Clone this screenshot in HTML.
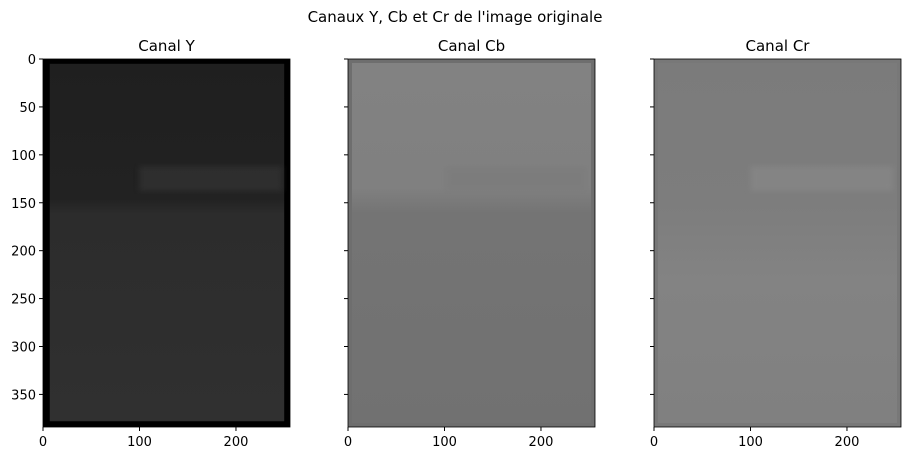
<!DOCTYPE html>
<html><head><meta charset="utf-8"><style>
body{margin:0;background:#fff;font-family:"Liberation Sans","DejaVu Sans",sans-serif;}
svg text{font-family:"DejaVu Sans","Liberation Sans",sans-serif;font-size:13px;fill:#000}
</style></head><body>
<svg id="fig" width="910" height="457" xmlns="http://www.w3.org/2000/svg">
<defs>
<linearGradient id="gy" x1="0" y1="0" x2="0" y2="1">
<stop offset="0" stop-color="#1f1f1f"/><stop offset="0.38" stop-color="#222"/><stop offset="0.42" stop-color="#2c2c2c"/><stop offset="1" stop-color="#303030"/></linearGradient>
<linearGradient id="gcb" x1="0" y1="0" x2="0" y2="1">
<stop offset="0" stop-color="#828282"/><stop offset="0.35" stop-color="#808080"/><stop offset="0.42" stop-color="#747474"/><stop offset="1" stop-color="#717171"/></linearGradient>
<linearGradient id="gcr" x1="0" y1="0" x2="0" y2="1">
<stop offset="0" stop-color="#7b7b7b"/><stop offset="0.4" stop-color="#7d7d7d"/><stop offset="0.6" stop-color="#838383"/><stop offset="1" stop-color="#808080"/></linearGradient>
<filter id="blur"><feGaussianBlur stdDeviation="3"/></filter>
</defs>
<text x="455" y="22" text-anchor="middle" style="font-size:15px">Canaux Y, Cb et Cr de l'image originale</text>
<g id="panels"></g>
</svg>
<script>
const panelTitles=["Canal Y","Canal Cb","Canal Cr"];
const xTicks=[0,100,200];
const yTicks=[0,50,100,150,200,250,300,350];
const imgW=256, imgH=384;
const lefts=[43,348,654], topY=59, pw=247, ph=368;
const fills=["url(#gy)","url(#gcb)","url(#gcr)"];
const ns="http://www.w3.org/2000/svg";
const root=document.getElementById('panels');
function mk(t,a,p){const e=document.createElementNS(ns,t);for(const k in a)e.setAttribute(k,a[k]);p.appendChild(e);return e;}
panelTitles.forEach((title,i)=>{
  const L=lefts[i];
  const sx=v=>L+v/imgW*pw, sy=v=>topY+v/imgH*ph;
  const g=mk('g',{},root);
  
  
  let img;
  if(i===0){mk('rect',{x:L,y:topY,width:pw,height:ph,fill:'#000'},g);
    img=mk('rect',{x:sx(7),y:sy(5),width:sx(250)-sx(7),height:sy(378)-sy(5),fill:fills[i]},g);
  } else {
    img=mk('rect',{x:L,y:topY,width:pw,height:ph,fill:fills[i]},g);
    mk('rect',{x:L+2,y:topY+2,width:pw-4,height:ph-4,fill:'none',stroke:i===1?'#6e6e6e':'#787878','stroke-width':4},g);
  }
  
  
  const vc=['#3a3a3a','#7a7a7a','#8c8c8c'][i];
  mk('rect',{x:sx(100),y:sy(112),width:sx(248)-sx(100),height:sy(138)-sy(112),fill:vc,opacity:0.5,filter:'url(#blur)'},g);
  const t=mk('text',{x:L+pw/2,y:topY-8,'text-anchor':'middle',style:'font-size:15px'},g);
  t.textContent=title;
  
  
  mk('rect',{x:L,y:topY,width:pw,height:ph,fill:'none',stroke:'#000','stroke-width':0.8},g);
  xTicks.forEach(v=>{
    mk('line',{x1:sx(v),x2:sx(v),y1:topY+ph,y2:topY+ph+4,stroke:'#000'},g);
    const tx=mk('text',{x:sx(v),y:topY+ph+19,'text-anchor':'middle'},g);tx.textContent=v;
    
    
  });
  yTicks.forEach(v=>{
    mk('line',{x1:L-4,x2:L,y1:sy(v),y2:sy(v),stroke:'#000'},g);
    if(i===0){const ty=mk('text',{x:L-7,y:sy(v)+5,'text-anchor':'end'},g);ty.textContent=v;
      
      }
  });
});
</script>
</body></html>
